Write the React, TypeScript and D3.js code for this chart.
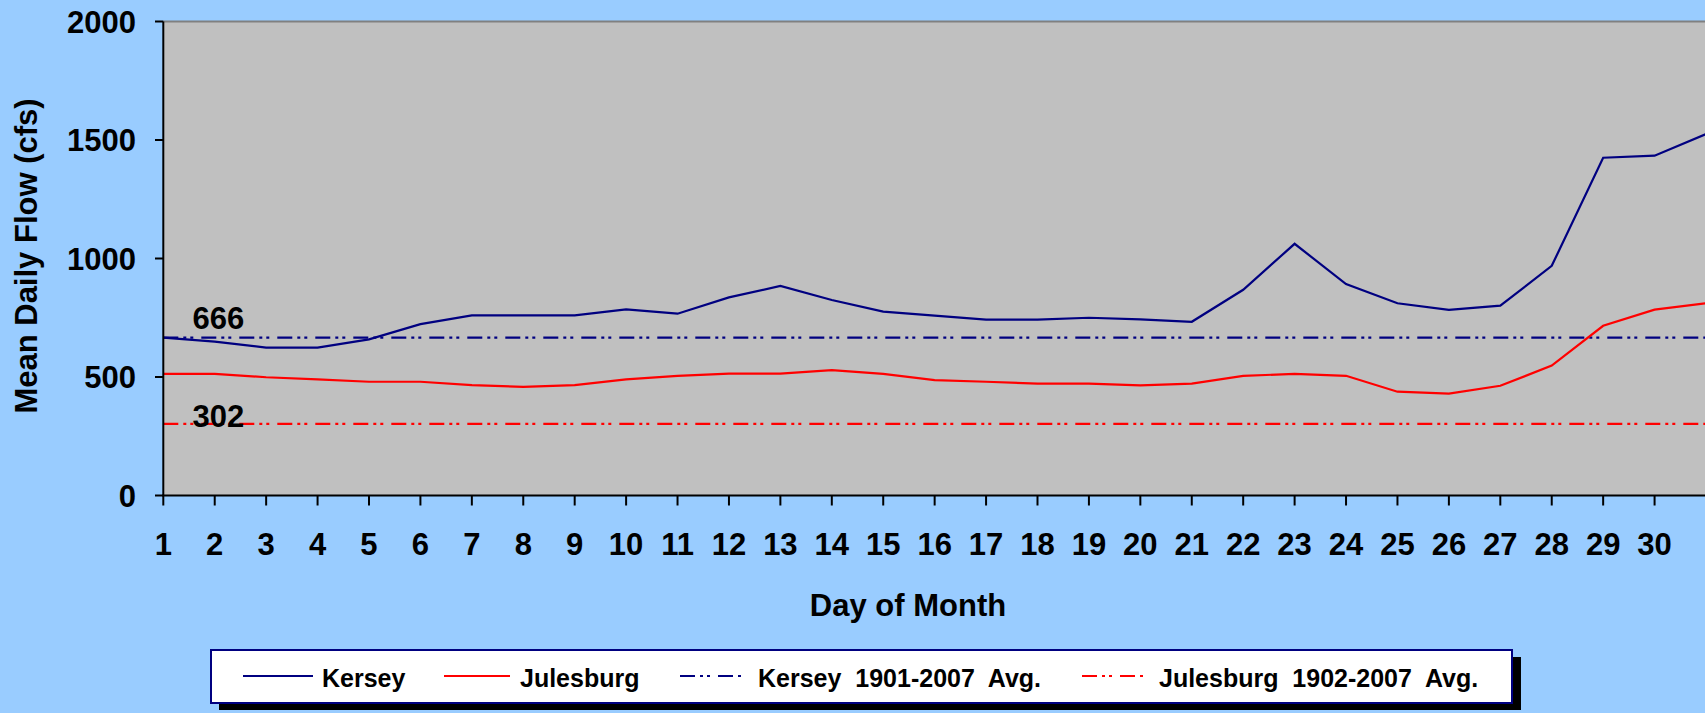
import React, { useEffect } from "react";
import * as d3 from "d3";

const days = d3.range(1, 32);
const kersey = [666, 649, 624, 624, 659, 723, 760, 760, 760, 785, 767, 836, 884, 825, 776, 759, 742, 742, 750, 743, 733, 868, 1062, 892, 811, 783, 801, 969, 1425, 1434, 1525];
const julesburg = [513, 513, 499, 490, 480, 480, 466, 458, 466, 490, 505, 514, 514, 529, 513, 487, 480, 472, 472, 465, 472, 505, 513, 505, 438, 430, 463, 548, 716, 784, 811];
const kerseyAvg = 666;
const julesburgAvg = 302;
const yTicks = [0, 500, 1000, 1500, 2000];
const xTickLabels = d3.range(1, 31);
const legendLabels = ["Kersey", "Julesburg", "Kersey  1901-2007  Avg.", "Julesburg  1902-2007  Avg."];

const W = 1705;
const H = 713;
const FONT = "'Liberation Sans', Arial, Helvetica, sans-serif";
const NAVY = "#000080";
const RED = "#FF0000";
const DASH = "15,5,3,4,3,8";
const FS = 31;

export default function App() {
  useEffect(() => {
    document.body.style.margin = "0";
    document.body.style.overflow = "hidden";
  }, []);

  const x = d3.scaleLinear().domain([1, 31]).range([163.3, 1706]);
  const y = d3.scaleLinear().domain([0, 2000]).range([495.5, 21.5]);
  const line = d3
    .line<number>()
    .x((_, i) => x(days[i]))
    .y((d) => y(d));

  const plotLeft = x(1);
  const plotRight = x(31);
  const plotTop = y(2000);
  const plotBottom = y(0);

  const legendY = 676;
  const legendBase = 687;
  const legendItems = [
    { label: legendLabels[0], color: NAVY, dash: undefined, x1: 243, x2: 313, tx: 322 },
    { label: legendLabels[1], color: RED, dash: undefined, x1: 444, x2: 510, tx: 520 },
    { label: legendLabels[2], color: NAVY, dash: DASH, x1: 680, x2: 744, tx: 758 },
    { label: legendLabels[3], color: RED, dash: DASH, x1: 1082, x2: 1144, tx: 1159 },
  ];

  return (
    <svg
      width={W}
      height={H}
      style={{ position: "absolute", left: 0, top: 0, display: "block" }}
      fontFamily={FONT}
      fontWeight="bold"
    >
      <rect x={0} y={0} width={W} height={H} fill="#99CCFF" />
      <rect x={plotLeft} y={plotTop} width={plotRight - plotLeft} height={plotBottom - plotTop} fill="#C0C0C0" />
      <line x1={plotLeft} x2={plotRight} y1={plotTop} y2={plotTop} stroke="#808080" strokeWidth={2} />

      {/* average lines */}
      <line x1={plotLeft} x2={plotRight} y1={y(kerseyAvg)} y2={y(kerseyAvg)} stroke={NAVY} strokeWidth={2.3} strokeDasharray={DASH} />
      <line x1={plotLeft} x2={plotRight} y1={y(julesburgAvg)} y2={y(julesburgAvg)} stroke={RED} strokeWidth={2.3} strokeDasharray={DASH} />

      {/* data lines */}
      <path d={line(julesburg) || ""} fill="none" stroke={RED} strokeWidth={2.2} />
      <path d={line(kersey) || ""} fill="none" stroke={NAVY} strokeWidth={2.2} />

      {/* avg labels */}
      <text x={192.5} y={329} fontSize={FS} fill="#000">{kerseyAvg}</text>
      <text x={192.5} y={427} fontSize={FS} fill="#000">{julesburgAvg}</text>

      {/* axes */}
      <line x1={plotLeft} x2={plotLeft} y1={plotTop} y2={plotBottom} stroke="#000" strokeWidth={2} />
      <line x1={plotLeft - 1} x2={plotRight} y1={plotBottom} y2={plotBottom} stroke="#000" strokeWidth={2} />
      {yTicks.map((t) => (
        <g key={"y" + t}>
          <line x1={155} x2={plotLeft} y1={y(t)} y2={y(t)} stroke="#000" strokeWidth={2} />
          <text x={136} y={y(t)} dy="0.36em" textAnchor="end" fontSize={FS} fill="#000">{t}</text>
        </g>
      ))}
      {days.map((d) => (
        <line key={"xt" + d} x1={x(d)} x2={x(d)} y1={plotBottom} y2={plotBottom + 10} stroke="#000" strokeWidth={2} />
      ))}
      {xTickLabels.map((d) => (
        <text key={"xl" + d} x={x(d)} y={555} textAnchor="middle" fontSize={FS} fill="#000">{d}</text>
      ))}

      {/* axis titles */}
      <text transform="translate(37,256) rotate(-90)" textAnchor="middle" fontSize={FS} fill="#000">Mean Daily Flow (cfs)</text>
      <text x={908} y={616} textAnchor="middle" fontSize={FS} fill="#000">Day of Month</text>

      {/* legend */}
      <rect x={219} y={657} width={1302} height={53} fill="#000" />
      <rect x={211} y={650} width={1301} height={53} fill="#fff" stroke={NAVY} strokeWidth={2} />
      {legendItems.map((it) => (
        <g key={it.label}>
          <line x1={it.x1} x2={it.x2} y1={legendY} y2={legendY} stroke={it.color} strokeWidth={2} strokeDasharray={it.dash} />
          <text x={it.tx} y={legendBase} fontSize={25} fill="#000" style={{ whiteSpace: "pre" }}>{it.label}</text>
        </g>
      ))}
    </svg>
  );
}
